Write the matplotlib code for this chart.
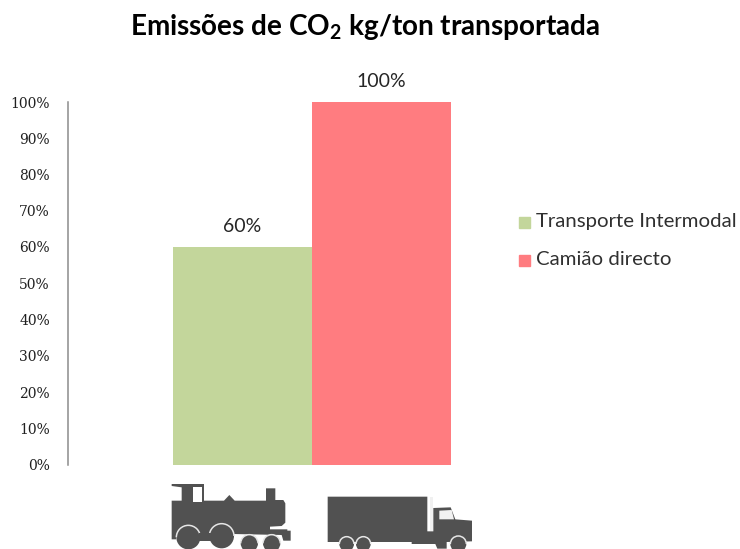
import matplotlib
matplotlib.use("Agg")
import matplotlib.pyplot as plt
from matplotlib.patches import Polygon, Circle, Rectangle, Arc

series = ["Transporte Intermodal", "Camião directo"]
values = [60, 100]
colors = ["#C3D69B", "#FF7C80"]
ticks = list(range(0, 101, 10))
title = "Emissões de CO$_2$ kg/ton transportada"

plt.rcParams["mathtext.fontset"] = "custom"
plt.rcParams["mathtext.rm"] = "Lato:bold"
plt.rcParams["mathtext.default"] = "rm"

W, H = 740, 549
fig = plt.figure(figsize=(W / 100, H / 100), dpi=100)
ax = fig.add_axes([68 / W, 1 - 464.5 / H, 488 / W, 362.5 / H])
bw = 139 / 488
for i, (s, v, c) in enumerate(zip(series, values, colors)):
    x = (i - 0.5) * bw
    ax.bar(x, v, bw, color=c, label=s)
    ax.text(x, v + 3.2, f"{v}%", ha="center", va="bottom", fontsize=14,
            family="Lato", color="#262626")
ax.set_xlim(-0.5, 0.5)
ax.set_ylim(0, 100)
ax.set_xticks([])
ax.set_yticks(ticks)
ax.set_yticklabels([f"{t}%" for t in ticks], family="DejaVu Serif",
                   fontsize=10, color="#202020")
ax.tick_params(axis="y", length=0, pad=13)
for k in ("top", "right", "bottom"):
    ax.spines[k].set_visible(False)
ax.spines["left"].set_color("#8C8C8C")
ax.spines["left"].set_linewidth(1.1)

fig.text(365 / W, 1 - 27 / H, title, ha="center", va="center",
         fontsize=20.1, fontweight="bold", family="Lato", color="black")

# Legend
for y, c, s in zip((222, 260), colors, series):
    fig.patches.append(Rectangle((519 / W, 1 - (y + 5.5) / H), 11 / W, 11 / H,
                                 color=c, transform=fig.transFigure))
    fig.text(536 / W, 1 - y / H, s, ha="left", va="center", fontsize=14.7,
             family="Lato", color="#303030")

# Pictograms: overlay in pixel space
ov = fig.add_axes([0, 0, 1, 1], facecolor="none")
ov.set_xlim(0, W)
ov.set_ylim(H, 0)
ov.axis("off")
G = "#515151"


def p(z):
    return (150 + z[0] / 3, 470 + z[1] / 3)


def poly(pts, col=G):
    ov.add_patch(Polygon([p(q) for q in pts], closed=True, fc=col, ec="none"))


def wheel(cx, cy, r):
    c = p((cx, cy))
    ov.add_patch(Circle(c, r / 3, fc=G, ec="none"))
    ov.add_patch(Arc(c, 2 * r / 3, 2 * r / 3, theta1=180, theta2=360,
                     ec="#E6E6E6", lw=1.1))


train = [(65, 42), (162, 42), (162, 92), (222, 92), (238, 75), (254, 92), (348, 92),
         (348, 55), (376, 55), (376, 90), (400, 90), (406, 100), (406, 158), (395, 168),
         (360, 170), (360, 178), (412, 178), (412, 182), (422, 182), (422, 212), (400, 212),
         (395, 195), (250, 192), (80, 192), (78, 208), (65, 208), (65, 92), (95, 92),
         (95, 52), (65, 48)]
poly(train)
poly([(130, 52), (155, 52), (155, 97), (130, 97)], "white")
wheel(115, 202, 36)
wheel(215, 198, 37)
wheel(298, 220, 26)
wheel(365, 220, 26)
poly([(148, 190), (182, 190), (182, 212), (148, 212)])

poly([(533, 80), (832, 80), (832, 184), (850, 184), (850, 114), (902, 112), (916, 148),
      (966, 152), (966, 214), (890, 216), (890, 236), (862, 236), (856, 222), (785, 222),
      (785, 216), (533, 216)])
poly([(868, 122), (905, 120), (912, 148), (868, 148)], "#F2F2F2")
poly([(841, 80), (850, 80), (850, 184), (841, 184)], "#F0F0F0")
wheel(590, 222, 22)
wheel(640, 222, 22)
wheel(925, 222, 24)

fig.savefig("out.png", dpi=100, facecolor="white")
